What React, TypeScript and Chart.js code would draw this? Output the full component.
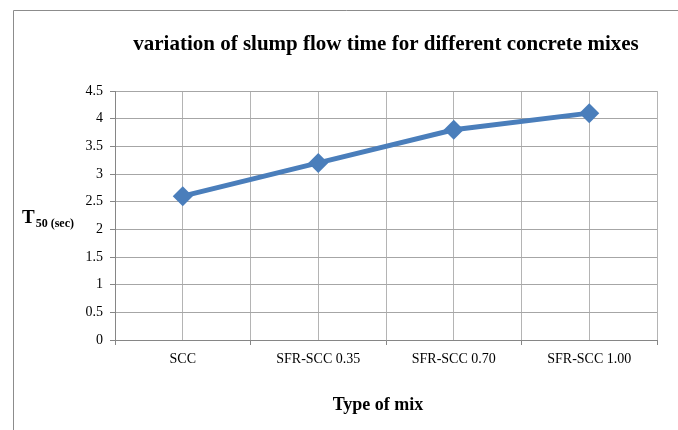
import React, { useEffect, useRef } from "react";
import { Chart, registerables } from "chart.js";

Chart.register(...registerables);

const categories = ["SCC", "SFR-SCC 0.35", "SFR-SCC 0.70", "SFR-SCC 1.00"];
const t50Values = [2.6, 3.2, 3.8, 4.1];
const chartTitle = "variation of slump flow time for different concrete mixes";
const xTitle = "Type of mix";
const yTitleMain = "T";
const yTitleSub = "50 (sec)";

const FONT = '"Liberation Serif", "Times New Roman", serif';

const isInt = (v: number) => Math.abs(v - Math.round(v)) < 1e-6;

const textPlugin = {
  id: "texts",
  beforeDraw(chart: any) {
    const ctx = chart.ctx;
    ctx.save();
    ctx.fillStyle = "#ffffff";
    ctx.fillRect(0, 0, chart.width, chart.height);
    ctx.strokeStyle = "#8c8c8c";
    ctx.lineWidth = 1;
    ctx.beginPath();
    ctx.moveTo(13.5, chart.height + 5);
    ctx.lineTo(13.5, 10.5);
    ctx.lineTo(chart.width + 5, 10.5);
    ctx.stroke();
    ctx.restore();
  },
  afterDraw(chart: any) {
    const ctx = chart.ctx;
    const area = chart.chartArea;
    ctx.save();
    ctx.fillStyle = "#000000";
    ctx.textBaseline = "alphabetic";
    ctx.textAlign = "center";
    ctx.font = `bold 21px ${FONT}`;
    ctx.fillText(chartTitle, (area.left + area.right) / 2, 50);
    ctx.font = `bold 18px ${FONT}`;
    ctx.fillText(xTitle, (area.left + area.right) / 2 - 8, 410);
    ctx.textAlign = "left";
    ctx.font = `bold 19px ${FONT}`;
    ctx.fillText(yTitleMain, 22, 223);
    const w = ctx.measureText(yTitleMain).width;
    ctx.font = `bold 12px ${FONT}`;
    ctx.fillText(yTitleSub, 22 + w + 1, 227);
    ctx.restore();
  },
};

export default function App() {
  const ref = useRef<HTMLCanvasElement | null>(null);
  useEffect(() => {
    if (!ref.current) return;
    const chart = new Chart(ref.current, {
      type: "line",
      data: {
        datasets: [
          {
            data: t50Values.map((v, i) => ({ x: i, y: v })),
            borderColor: "#4a7ebb",
            backgroundColor: "#4a7ebb",
            borderWidth: 5,
            pointStyle: "rectRot",
            pointRadius: 10,
            pointBorderWidth: 0,
            tension: 0,
          },
        ],
      },
      options: {
        animation: false,
        responsive: false,
        layout: { padding: { top: 91, right: 21, left: 0, bottom: 0 } },
        plugins: { legend: { display: false }, tooltip: { enabled: false }, title: { display: false } },
        scales: {
          x: {
            type: "linear",
            min: -0.5,
            max: 3.5,
            afterFit(scale: any) {
              scale.height = 90;
            },
            afterBuildTicks(scale: any) {
              const t = [];
              for (let v = -0.5; v <= 3.5 + 1e-9; v += 0.5) t.push({ value: v });
              scale.ticks = t;
            },
            ticks: {
              autoSkip: false,
              maxRotation: 0,
              padding: 6,
              color: "#000000",
              font: { family: FONT, size: 14 },
              callback: (v: any) => (isInt(Number(v)) ? categories[Math.round(Number(v))] : ""),
            },
            grid: {
              color: "#b4b4b4",
              lineWidth: 1,
              tickLength: 5,
              tickColor: (c: any) => (c.tick && !isInt(c.tick.value) ? "#868686" : "rgba(0,0,0,0)"),
            },
            border: { color: "#868686", width: 1 },
          },
          y: {
            min: 0,
            max: 4.5,
            afterFit(scale: any) {
              scale.width = 115;
            },
            ticks: {
              stepSize: 0.5,
              padding: 7,
              color: "#000000",
              font: { family: FONT, size: 14 },
              callback: (v: any) => String(Number(v)),
            },
            grid: { color: "#a6a6a6", lineWidth: 1, tickLength: 5, tickColor: "#868686" },
            border: { color: "#868686", width: 1 },
          },
        },
      },
      plugins: [textPlugin],
    } as any);
    return () => chart.destroy();
  }, []);
  return (
    <div style={{ position: "fixed", left: 0, top: 0, width: 678, height: 430 }}>
      <canvas ref={ref} width={678} height={430} style={{ width: 678, height: 430, display: "block" }} />
    </div>
  );
}
